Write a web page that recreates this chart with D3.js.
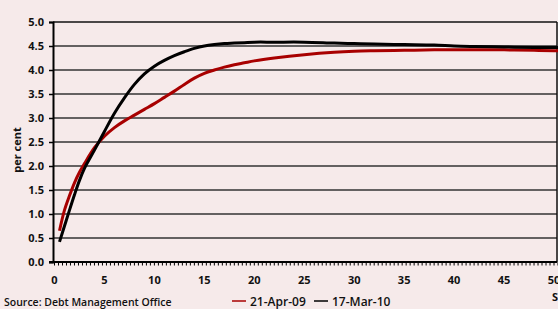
<!DOCTYPE html>
<html>
<head>
<meta charset="utf-8">
<script src="https://cdn.jsdelivr.net/npm/d3@7"></script>
<style>
  html, body { margin: 0; padding: 0; background: #f6eaea; overflow: hidden; }
  text { font-family: "Open Sans", "DejaVu Sans", sans-serif; font-weight: bold; fill: #111; }
</style>
</head>
<body>
<div id="chart"></div>
<script>
// Maturity (years) for each curve point
const maturities = [0.5, 1, 1.5, 2, 2.5, 3, 4, 5, 6, 7, 8, 9, 10, 11, 12, 13, 14, 15, 16, 17, 18, 19, 20, 22, 25, 28, 30, 32, 35, 38, 40, 42, 45, 48, 50, 50.4];

// Gilt yields, 21-Apr-09
const apr09 = [0.65, 1.08, 1.38, 1.65, 1.87, 2.05, 2.38, 2.62, 2.8, 2.94, 3.06, 3.18, 3.3, 3.43, 3.56, 3.7, 3.83, 3.93, 4.0, 4.06, 4.11, 4.15, 4.19, 4.25, 4.32, 4.37, 4.39, 4.4, 4.41, 4.42, 4.42, 4.42, 4.42, 4.41, 4.4, 4.4];

// Gilt yields, 17-Mar-10
const mar10 = [0.42, 0.75, 1.08, 1.4, 1.7, 1.95, 2.33, 2.72, 3.1, 3.42, 3.7, 3.92, 4.08, 4.2, 4.3, 4.38, 4.45, 4.5, 4.53, 4.55, 4.56, 4.57, 4.58, 4.58, 4.58, 4.56, 4.55, 4.54, 4.53, 4.52, 4.5, 4.49, 4.48, 4.47, 4.47, 4.47];

const xTicks = [0, 5, 10, 15, 20, 25, 30, 35, 40, 45, 50];
const yTicks = [0, 0.5, 1, 1.5, 2, 2.5, 3, 3.5, 4, 4.5, 5];

const series = [
  { name: "21-Apr-09", values: apr09, color: "#a80000" },
  { name: "17-Mar-10", values: mar10, color: "#000000" }
];

const width = 558, height = 309;
const plotLeft = 53, plotRight = 557, plotTop = 22, plotBottom = 262;

const svg = d3.select("#chart")
  .append("svg")
  .attr("width", width)
  .attr("height", height);

svg.append("rect")
  .attr("width", width)
  .attr("height", height)
  .attr("fill", "#f6eaea");

// Scales
const x = d3.scaleLinear()
  .domain([0, 50])
  .range([54.5, 554]);

const y = d3.scaleLinear()
  .domain([0, 5])
  .range([plotBottom, plotTop]);

// Horizontal grid lines
svg.append("g")
  .selectAll("line")
  .data(yTicks.filter(d => d > 0))
  .join("line")
  .attr("x1", plotLeft)
  .attr("x2", plotRight)
  .attr("y1", d => y(d))
  .attr("y2", d => y(d))
  .attr("stroke", d => d === 5 ? "#111" : "#333")
  .attr("stroke-width", 1.5);

// Right border
svg.append("line")
  .attr("x1", plotRight)
  .attr("x2", plotRight)
  .attr("y1", plotTop)
  .attr("y2", plotBottom)
  .attr("stroke", "#111")
  .attr("stroke-width", 1.5);

// Y axis
const yAxis = svg.append("g")
  .attr("transform", "translate(" + plotLeft + ",0)")
  .call(d3.axisLeft(y).tickValues(yTicks).tickFormat(d3.format(".1f")).tickSize(4).tickPadding(5));
yAxis.select(".domain").attr("stroke", "#000").attr("stroke-width", 2);
yAxis.selectAll(".tick line").attr("stroke", "#000").attr("stroke-width", 1.5);
yAxis.selectAll("text")
  .style("font-size", "11px")
  .style("font-family", "'Open Sans', sans-serif")
  .style("font-weight", "bold")
  .attr("fill", "#111");

// X axis: minor ticks
const minorTicks = d3.range(0, 50.9, 0.4);
svg.append("g")
  .selectAll("line")
  .data(minorTicks)
  .join("line")
  .attr("x1", d => x(d))
  .attr("x2", d => x(d))
  .attr("y1", plotBottom)
  .attr("y2", plotBottom + 3.5)
  .attr("stroke", "#000")
  .attr("stroke-width", 1);

svg.append("line")
  .attr("x1", plotLeft - 4)
  .attr("x2", plotRight)
  .attr("y1", plotBottom)
  .attr("y2", plotBottom)
  .attr("stroke", "#000")
  .attr("stroke-width", 2);

// X tick labels
svg.append("g")
  .selectAll("text")
  .data(xTicks)
  .join("text")
  .attr("x", d => x(d))
  .attr("y", 284)
  .attr("text-anchor", "middle")
  .style("font-size", "11px")
  .text(d => d);

// Y label
svg.append("text")
  .attr("transform", "translate(21,150) rotate(-90)")
  .attr("text-anchor", "middle")
  .style("font-size", "11px")
  .text("per cent");

// Curves
const line = d3.line()
  .x((d, i) => x(maturities[i]))
  .y(d => y(d))
  .curve(d3.curveCatmullRom.alpha(0.5));

svg.append("g")
  .selectAll("path")
  .data(series)
  .join("path")
  .attr("d", d => line(d.values))
  .attr("fill", "none")
  .attr("stroke", d => d.color)
  .attr("stroke-width", 3)
  .attr("stroke-linecap", "butt");

// Source note
svg.append("text")
  .attr("x", 4)
  .attr("y", 306)
  .style("font-size", "10.5px")
  .style("font-weight", "600")
  .text("Source: Debt Management Office");

// Legend
const legend = svg.append("g")
  .attr("transform", "translate(232,301)");

const legendItem = legend.selectAll("g")
  .data(series)
  .join("g")
  .attr("transform", (d, i) => "translate(" + (i * 82) + ",0)");

legendItem.append("line")
  .attr("x1", 0)
  .attr("x2", 14)
  .attr("y1", 0)
  .attr("y2", 0)
  .attr("stroke", d => d.color)
  .attr("stroke-width", 1.5);

legendItem.append("text")
  .attr("x", 18)
  .attr("y", 4.5)
  .style("font-size", "12px")
  .style("font-weight", "600")
  .text(d => d.name);

// Cut-off axis note at the right edge
svg.append("text")
  .attr("x", 552)
  .attr("y", 301)
  .style("font-size", "11px")
  .text("S");
</script>
</body>
</html>
